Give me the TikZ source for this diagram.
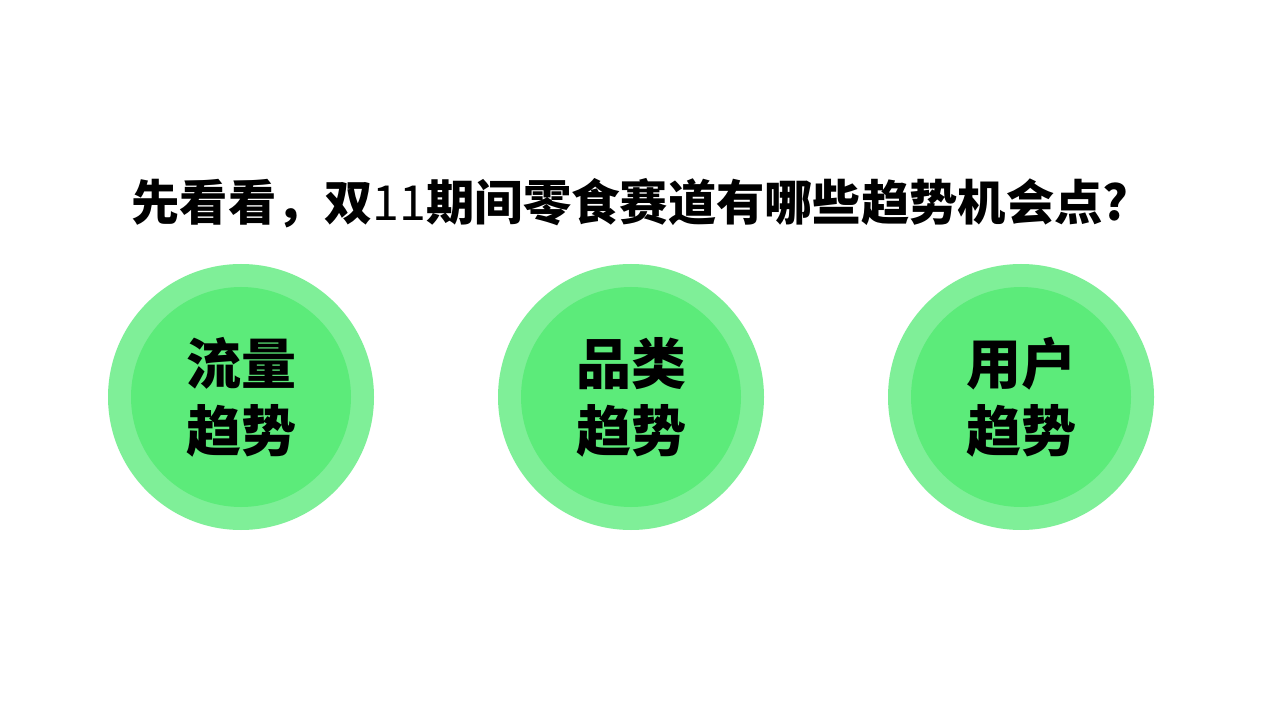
\documentclass[tikz,border=0pt]{standalone}
\usepackage{fontspec}
\newfontfamily\cjk{Noto Sans CJK SC}
\definecolor{outergreen}{HTML}{7FEF98}
\definecolor{innergreen}{HTML}{5CEB7A}
\tikzset{
  outerc/.style={circle, fill=outergreen, minimum size=266pt, inner sep=0pt},
  innerc/.style={circle, fill=innergreen, minimum size=220pt, inner sep=0pt},
  label/.style={font=\cjk\bfseries\fontsize{55}{67}\selectfont, align=center, text=black},
}
\begin{document}
\begin{tikzpicture}[x=1pt,y=-1pt]
\useasboundingbox[fill=white] (0,0) rectangle (1280,719);
\node[font=\cjk\bfseries\fontsize{48.3}{52}\selectfont, text=black] (title) at (630,203)
  {先看看，双{\mdseries 11}期间零食赛道有哪些趋势机会点?};
\foreach \n/\x/\a/\b in {1/241/流量/趋势, 2/631/品类/趋势, 3/1021/用户/趋势}{
  \node[outerc] (o\n) at (\x,397) {};
  \node[innerc] (i\n) at (o\n) {};
  \node[label] (t\n) at (i\n) {\a\\\b};
}
\end{tikzpicture}
\end{document}
